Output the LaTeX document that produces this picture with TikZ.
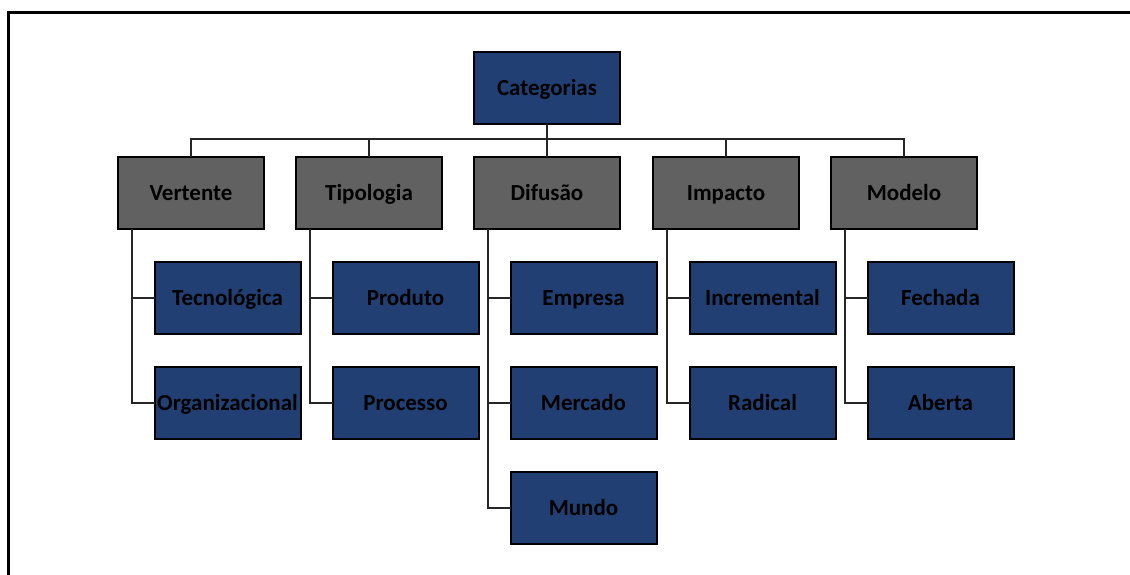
\documentclass[tikz,border=0pt]{standalone}
\usepackage{fontspec}
\setmainfont{Carlito}
\definecolor{catblue}{RGB}{33,63,115}
\definecolor{catgray}{RGB}{97,97,97}
\begin{document}
\begin{tikzpicture}[x=1pt,y=-1pt,
  box/.style={draw=black, line width=2pt, minimum width=146pt, minimum height=72pt,
    inner sep=0pt, outer sep=0pt, text height=16pt, text depth=1pt,
    font=\fontsize{23}{27}\selectfont\bfseries, text=black},
  bluebox/.style={box, fill=catblue},
  graybox/.style={box, fill=catgray},
  link/.style={draw=black!85, line width=1.4pt},
  frameline/.style={draw=black, line width=2.5pt}
]
\useasboundingbox (0,0) rectangle (1130,575);
% partial frame
\draw[frameline] (1130,12.5) -- (8.5,12.5) -- (8.5,575);

% root
\node[bluebox] (cat) at (547,88) {Categorias};

% second level
\node[graybox] (vert) at (191,193) {Vertente};
\node[graybox] (tipo) at (369,193) {Tipologia};
\node[graybox] (difu) at (547,193) {Difusão};
\node[graybox] (impa) at (726,193) {Impacto};
\node[graybox] (mode) at (904,193) {Modelo};

% leaves
\node[bluebox] (tec)  at (227.5,298) {Tecnológica};
\node[bluebox] (org)  at (227.5,403) {Organizacional};
\node[bluebox] (prod) at (405.5,298) {Produto};
\node[bluebox] (proc) at (405.5,403) {Processo};
\node[bluebox] (emp)  at (583.5,298) {Empresa};
\node[bluebox] (merc) at (583.5,403) {Mercado};
\node[bluebox] (mund) at (583.5,508) {Mundo};
\node[bluebox] (incr) at (762.5,298) {Incremental};
\node[bluebox] (radi) at (762.5,403) {Radical};
\node[bluebox] (fech) at (940.5,298) {Fechada};
\node[bluebox] (aber) at (940.5,403) {Aberta};

% root to second level
\foreach \n in {vert,tipo,difu,impa,mode}
  \draw[link] (cat.south) -- ++(0,15) -| (\n.north);

% second level to leaves
\foreach \p/\c in {vert/tec,vert/org,tipo/prod,tipo/proc,difu/emp,difu/merc,difu/mund,
                   impa/incr,impa/radi,mode/fech,mode/aber}
  \draw[link] ([xshift=-59pt]\p.south) |- (\c.west);
\end{tikzpicture}
\end{document}
